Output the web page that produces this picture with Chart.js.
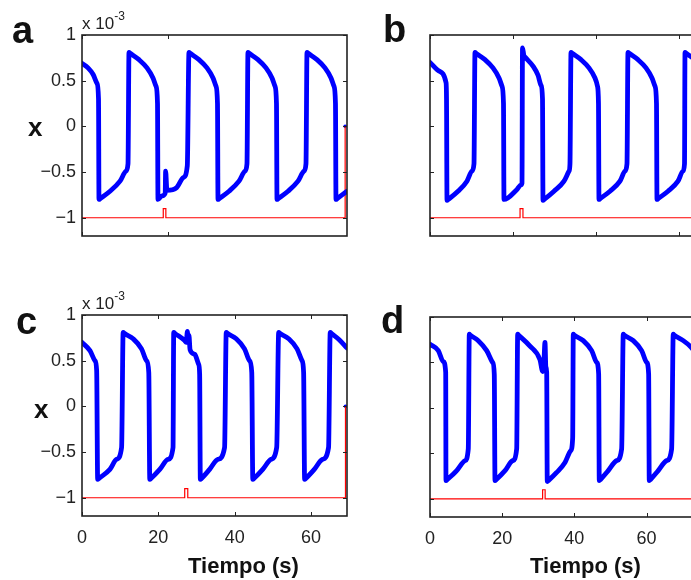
<!DOCTYPE html>
<html>
<head>
<meta charset="utf-8">
<script src="https://cdn.jsdelivr.net/npm/chart.js@4.4.1/dist/chart.umd.min.js"></script>
<style>
  html, body { margin: 0; padding: 0; background: #fff; overflow: hidden; }
  body { width: 691px; height: 580px; position: relative; font-family: "Liberation Sans", Arial, sans-serif; color: #111; }
  canvas { position: absolute; }
  .lbl { position: absolute; white-space: nowrap; line-height: 1; }
  .letter { font-size: 38px; font-weight: bold; }
  .ylab { font-size: 26px; font-weight: bold; }
  .xlab { font-size: 22px; font-weight: bold; }
  .exp { font-size: 17px; color: #222; }
  .exp sup { font-size: 12px; position: relative; top: -2px; }
</style>
</head>
<body>
<canvas id="chartA" width="360" height="280" style="left:0;top:0"></canvas>
<canvas id="chartB" width="360" height="280" style="left:350px;top:0"></canvas>
<canvas id="chartC" width="360" height="280" style="left:0;top:280px"></canvas>
<canvas id="chartD" width="360" height="280" style="left:350px;top:280px"></canvas>

<div class="lbl letter" style="left:12px;top:11px">a</div>
<div class="lbl letter" style="left:383px;top:10px">b</div>
<div class="lbl letter" style="left:16px;top:302px">c</div>
<div class="lbl letter" style="left:381px;top:301px">d</div>

<div class="lbl exp" style="left:82px;top:12px">x 10<sup>-3</sup></div>
<div class="lbl exp" style="left:82px;top:292px">x 10<sup>-3</sup></div>

<div class="lbl ylab" style="left:28px;top:114px">x</div>
<div class="lbl ylab" style="left:34px;top:396px">x</div>

<div class="lbl xlab" style="left:188px;top:555px">Tiempo (s)</div>
<div class="lbl xlab" style="left:530px;top:555px">Tiempo (s)</div>

<script>
// ---- data (x in units of 1e-3, time in s) ----
var yTicks = [-1, -0.5, 0, 0.5, 1];

// panel a
var aTime = [0, 1.40, 2.56, 3.49, 3.84, 3.95,
  4.25, 6.51, 8.84, 10.23, 10.70, 10.93,
  11.20, 13.26, 15.12, 16.51, 17.21, 17.56, 17.67,
  18.60, 19.35, 19.45, 19.75, 22.02, 23.56, 24.49, 24.88,
  25.15, 27.21, 29.07, 30.47, 31.16, 31.51, 31.63,
  31.93, 34.19, 36.51, 37.91, 38.37, 38.60,
  38.87, 40.93, 42.79, 44.19, 44.88, 45.23, 45.35,
  45.65, 47.91, 50.23, 51.63, 52.09, 52.33,
  52.60, 54.65, 56.51, 57.91, 58.60, 58.95, 59.07,
  59.37, 61.63];
var aX = [0.69, 0.64, 0.57, 0.47, 0.30, -0.80,
  -0.79, -0.71, -0.60, -0.49, -0.41, 0.81,
  0.80, 0.73, 0.64, 0.53, 0.44, 0.25, -0.80,
  -0.76, -0.73, -0.49, -0.70, -0.67, -0.56, -0.43, 0.81,
  0.80, 0.73, 0.64, 0.53, 0.44, 0.25, -0.80,
  -0.79, -0.71, -0.60, -0.49, -0.41, 0.81,
  0.80, 0.73, 0.64, 0.53, 0.44, 0.25, -0.80,
  -0.79, -0.71, -0.60, -0.49, -0.41, 0.81,
  0.80, 0.73, 0.64, 0.53, 0.44, 0.25, -0.80,
  -0.79, -0.71];
var aStimTime = [0, 18.9, 18.9, 19.5, 19.5, 61.2, 61.2];
var aStimX = [-1, -1, -0.9, -0.9, -1, -1, 0];
var aTicks = [0, 20];

// panel b
var bTime = [0, 2.41, 3.86, 3.98, 4.10,
  4.40, 6.75, 8.90, 10.10, 10.60, 10.84,
  11.10, 13.25, 15.18, 16.63, 17.35, 17.71, 17.83,
  20.96, 21.93, 22.17, 22.29, 22.60, 22.90, 24.82, 26.02, 26.75, 27.11, 27.23,
  27.53, 29.88, 32.29, 33.49, 33.73, 33.98,
  34.25, 36.39, 38.31, 39.76, 40.36, 40.60, 40.72,
  41.02, 43.37, 45.78, 46.99, 47.47, 47.71,
  47.98, 50.12, 52.05, 53.49, 54.22, 54.58, 54.70,
  55.00, 57.35, 59.76, 60.96, 61.33, 61.45,
  61.72, 63.86, 64.10];
var bX = [0.70, 0.60, 0.48, 0.30, -0.81,
  -0.80, -0.71, -0.60, -0.49, -0.41, 0.81,
  0.80, 0.73, 0.64, 0.53, 0.44, 0.25, -0.80,
  -0.69, -0.64, -0.62, 0.86, 0.78, 0.76, 0.66, 0.56, 0.45, 0.30, -0.81,
  -0.80, -0.71, -0.60, -0.49, -0.41, 0.81,
  0.80, 0.73, 0.64, 0.53, 0.44, 0.25, -0.80,
  -0.79, -0.71, -0.60, -0.49, -0.41, 0.81,
  0.80, 0.73, 0.64, 0.53, 0.44, 0.25, -0.80,
  -0.79, -0.71, -0.60, -0.49, -0.41, 0.81,
  0.80, 0.73, 0.72];
var bStimTime = [0, 21.7, 21.7, 22.4, 22.4, 63.7, 63.7];
var bStimX = [-1, -1, -0.9, -0.9, -1, -1, 0];
var bTicks = [0, 20, 40, 60];

// panel c
var cTime = [0, 2.09, 3.39, 3.84, 4.10,
  4.40, 7.31, 9.06, 10.37, 10.78,
  11.05, 13.39, 15.59, 16.89, 17.49, 17.75,
  18.05, 20.37, 22.53, 23.84, 24.02,
  24.30, 26.89, 27.30, 27.60, 27.80, 28.00, 28.30, 29.50, 30.55, 30.81, 30.99,
  31.29, 33.42, 35.59, 37.34, 37.78,
  38.05, 40.39, 42.56, 43.86, 44.46, 44.73,
  45.03, 47.34, 49.53, 50.99, 51.51,
  51.78, 54.13, 56.32, 57.62, 58.04, 58.30,
  58.60, 60.84, 63.00, 64.57, 65.01,
  65.28, 67.36, 69.37];
var cX = [0.70, 0.61, 0.50, 0.39, -0.80,
  -0.79, -0.69, -0.58, -0.45, 0.81,
  0.80, 0.74, 0.63, 0.50, 0.37, -0.80,
  -0.79, -0.69, -0.58, -0.45, 0.81,
  0.80, 0.72, 0.70, 0.82, 0.70, 0.78, 0.62, 0.57, 0.46, 0.35, -0.80,
  -0.79, -0.69, -0.58, -0.45, 0.81,
  0.80, 0.74, 0.63, 0.50, 0.37, -0.80,
  -0.79, -0.69, -0.58, -0.45, 0.81,
  0.80, 0.74, 0.63, 0.50, 0.37, -0.80,
  -0.79, -0.69, -0.58, -0.45, 0.81,
  0.80, 0.73, 0.64];
var cStimTime = [0, 26.9, 26.9, 27.7, 27.7, 69.0, 69.0];
var cStimX = [-1, -1, -0.9, -0.9, -1, -1, 0];
var cTicks = [0, 20, 40, 60];

// panel d
var dTime = [0, 2.30, 3.68, 4.35, 4.43,
  4.73, 7.40, 9.70, 10.61, 10.89,
  11.16, 13.38, 15.71, 17.37, 17.81, 18.01,
  18.31, 20.78, 22.91, 24.02, 24.29,
  24.56, 27.70, 30.47, 31.22, 31.50, 31.86, 32.10, 32.33, 32.49,
  32.79, 35.10, 37.40, 38.98, 39.53, 39.70,
  39.97, 42.47, 44.79, 46.18, 46.73, 46.90,
  47.20, 49.39, 51.72, 53.10, 53.55,
  53.82, 56.32, 58.64, 60.03, 60.58, 60.75,
  61.05, 63.24, 65.57, 66.95, 67.40,
  67.67, 70.17, 72.30, 73.68];
var dX = [0.70, 0.63, 0.51, 0.39, -0.80,
  -0.79, -0.69, -0.58, -0.45, 0.81,
  0.80, 0.74, 0.63, 0.50, 0.37, -0.80,
  -0.79, -0.69, -0.58, -0.45, 0.81,
  0.80, 0.68, 0.53, 0.40, 0.45, 0.72, 0.45, 0.39, -0.81,
  -0.80, -0.71, -0.60, -0.47, -0.33, 0.81,
  0.80, 0.74, 0.63, 0.50, 0.37, -0.80,
  -0.79, -0.69, -0.58, -0.45, 0.81,
  0.80, 0.74, 0.63, 0.50, 0.37, -0.80,
  -0.79, -0.69, -0.58, -0.45, 0.81,
  0.80, 0.74, 0.67, 0.60];
var dStimTime = [0, 31.2, 31.2, 31.9, 31.9, 73.25, 73.25];
var dStimX = [-1, -1, -0.9, -0.9, -1, -1, 0];
var dTicks = [0, 20, 40, 60];

// ---- helpers ----
function toPoints(ts, xs) {
  return ts.map(function (t, i) { return { x: t, y: xs[i] }; });
}

// box + inward tick marks, MATLAB style
var boxPlugin = {
  id: "box",
  afterDatasetsDraw: function (chart) {
    var ctx = chart.ctx, a = chart.chartArea;
    var xs = chart.scales.x, ys = chart.scales.y;
    ctx.save();
    ctx.strokeStyle = "#222";
    ctx.lineWidth = 1;
    ctx.beginPath();
    xs.ticks.forEach(function (t) {
      var p = Math.round(xs.getPixelForValue(t.value)) + 0.5;
      ctx.moveTo(p, a.bottom); ctx.lineTo(p, a.bottom - 4);
      ctx.moveTo(p, a.top); ctx.lineTo(p, a.top + 4);
    });
    ys.ticks.forEach(function (t) {
      var p = Math.round(ys.getPixelForValue(t.value)) + 0.5;
      ctx.moveTo(a.left, p); ctx.lineTo(a.left + 4, p);
      ctx.moveTo(a.right, p); ctx.lineTo(a.right - 4, p);
    });
    ctx.stroke();
    ctx.lineWidth = 1.6;
    ctx.strokeRect(a.left, a.top, a.right - a.left, a.bottom - a.top);
    ctx.restore();
  }
};

function makePanel(id, opt) {
  var stimEnd = opt.stimTime[opt.stimTime.length - 1];
  return new Chart(document.getElementById(id), {
    type: "line",
    data: {
      datasets: [
        {
          data: toPoints(opt.time, opt.x),
          borderColor: "#0000ff",
          borderWidth: 4.8,
          pointRadius: 0,
          cubicInterpolationMode: "monotone",
          borderJoinStyle: "round",
          borderCapStyle: "round"
        },
        {
          data: toPoints(opt.stimTime, opt.stimX),
          borderColor: "#ff0000",
          borderWidth: 1.2,
          pointRadius: 0,
          tension: 0
        },
        {
          data: [{ x: stimEnd, y: 0 }],
          showLine: false,
          pointRadius: 1.8,
          pointBackgroundColor: "#0000ff",
          pointBorderWidth: 0
        }
      ]
    },
    options: {
      responsive: false,
      animation: false,
      events: [],
      layout: { padding: { top: opt.top, right: opt.right, left: 0, bottom: 0 } },
      plugins: { legend: { display: false }, tooltip: { enabled: false } },
      scales: {
        x: {
          type: "linear",
          min: 0,
          max: opt.xMax,
          grid: { display: false, drawTicks: false },
          border: { display: false },
          afterBuildTicks: function (s) { s.ticks = opt.xTicks.map(function (v) { return { value: v }; }); },
          afterFit: function (s) { s.height = opt.xAxisH; },
          ticks: {
            display: opt.showX,
            padding: 11,
            maxRotation: 0,
            color: "#222",
            font: { family: "'Liberation Sans', Arial, sans-serif", size: 18 }
          }
        },
        y: {
          min: -1.2,
          max: 1,
          grid: { display: false, drawTicks: false },
          border: { display: false },
          afterBuildTicks: function (s) { s.ticks = yTicks.map(function (v) { return { value: v }; }); },
          afterFit: function (s) { s.width = opt.left; },
          ticks: {
            display: opt.showY,
            padding: 6,
            color: "#222",
            font: { family: "'Liberation Sans', Arial, sans-serif", size: 18 },
            callback: function (v) { return String(v).replace("-", "\u2212"); }
          }
        }
      }
    },
    plugins: [boxPlugin]
  });
}

document.addEventListener("DOMContentLoaded", function () {
  makePanel("chartA", { time: aTime, x: aX, stimTime: aStimTime, stimX: aStimX, xTicks: aTicks,
    xMax: 61.63, top: 35, right: 13, left: 82, xAxisH: 44, showX: false, showY: true });
  makePanel("chartB", { time: bTime, x: bX, stimTime: bStimTime, stimX: bStimX, xTicks: bTicks,
    xMax: 64.1, top: 35, right: 14, left: 80, xAxisH: 44, showX: false, showY: false });
  makePanel("chartC", { time: cTime, x: cX, stimTime: cStimTime, stimX: cStimX, xTicks: cTicks,
    xMax: 69.4, top: 35, right: 13, left: 82, xAxisH: 44, showX: true, showY: true });
  makePanel("chartD", { time: dTime, x: dX, stimTime: dStimTime, stimX: dStimX, xTicks: dTicks,
    xMax: 73.7, top: 37, right: 14, left: 80, xAxisH: 43, showX: true, showY: false });
});
</script>
</body>
</html>
